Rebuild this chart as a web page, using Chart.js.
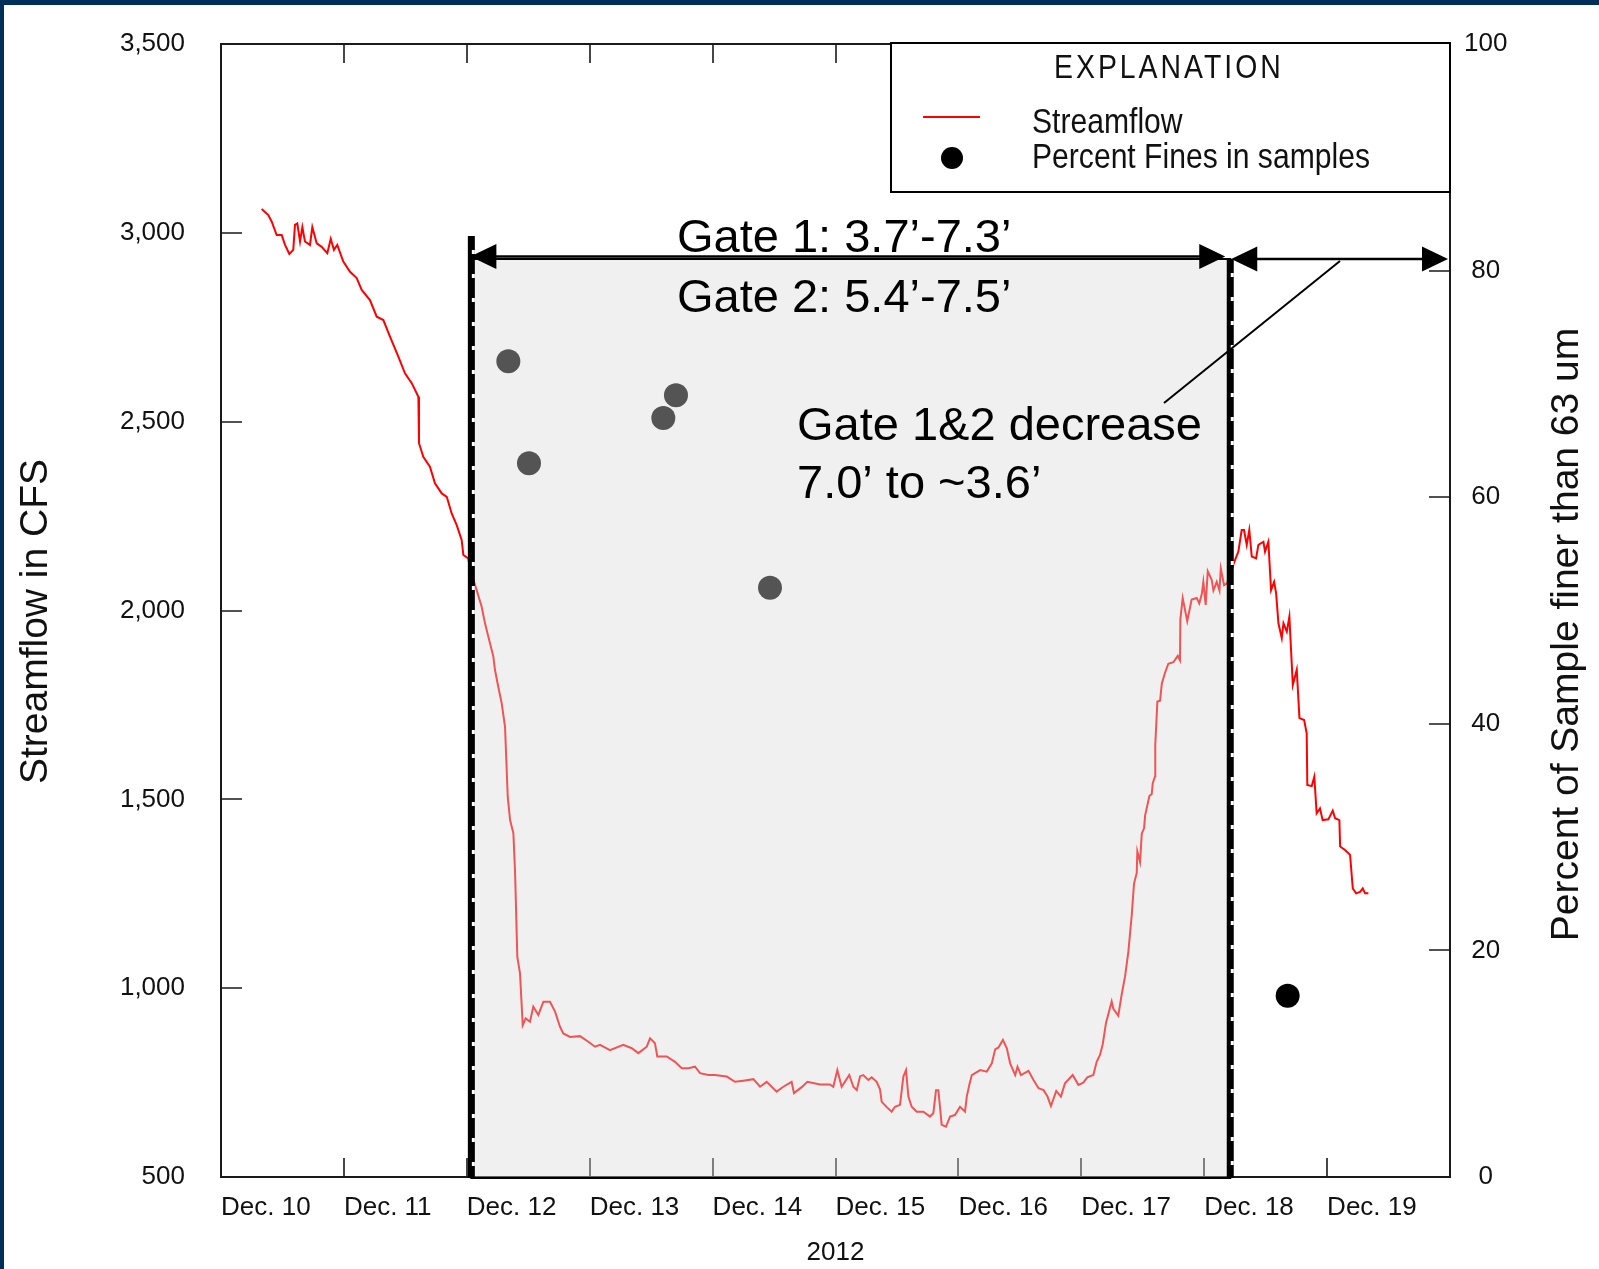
<!DOCTYPE html>
<html>
<head>
<meta charset="utf-8">
<script src="https://cdn.jsdelivr.net/npm/chart.js@4.4.1/dist/chart.umd.min.js"></script>
<style>
  html, body { margin: 0; padding: 0; background: #fff; }
  #frame {
    width: 1599px; height: 1269px; box-sizing: border-box;
    border-top: 5px solid #00305a; border-left: 4px solid #00305a;
  }
  #wrap { position: relative; width: 1595px; height: 1264px; }
</style>
</head>
<body>
<div id="frame"><div id="wrap"><canvas id="flowChart"></canvas></div></div>
<script>
const SANS = "'Liberation Sans', Arial, sans-serif";

// days since Dec. 10, 2012 00:00
const flowDays = [
  0.331, 0.385, 0.412, 0.453, 0.494, 0.521, 0.556, 0.588, 0.602, 0.621,
  0.643, 0.662, 0.683, 0.724, 0.743, 0.779, 0.819, 0.865, 0.893, 0.919,
  0.946, 0.995, 1.050, 1.104, 1.145, 1.212, 1.267, 1.321, 1.375, 1.443,
  1.497, 1.552, 1.606, 1.611, 1.646, 1.700, 1.741, 1.796, 1.837, 1.877,
  1.918, 1.958, 1.972, 2.012, 2.026, 2.080, 2.121, 2.148, 2.175, 2.216,
  2.229, 2.256, 2.284, 2.311, 2.333, 2.352, 2.379, 2.393, 2.411, 2.433,
  2.455, 2.479, 2.514, 2.541, 2.582, 2.623, 2.677, 2.718, 2.758, 2.785,
  2.840, 2.921, 2.989, 3.043, 3.084, 3.165, 3.273, 3.342, 3.396, 3.464,
  3.491, 3.531, 3.550, 3.627, 3.694, 3.749, 3.803, 3.857, 3.898, 3.965,
  4.019, 4.115, 4.182, 4.250, 4.332, 4.386, 4.440, 4.521, 4.575, 4.643,
  4.662, 4.725, 4.771, 4.874, 4.955, 4.982, 5.015, 5.050, 5.112, 5.145,
  5.173, 5.200, 5.226, 5.267, 5.294, 5.335, 5.362, 5.376, 5.417, 5.457,
  5.484, 5.525, 5.552, 5.574, 5.593, 5.620, 5.661, 5.715, 5.769, 5.796,
  5.818, 5.837, 5.850, 5.864, 5.899, 5.932, 5.972, 6.013, 6.054, 6.068,
  6.089, 6.109, 6.177, 6.231, 6.272, 6.299, 6.326, 6.362, 6.394, 6.421,
  6.462, 6.481, 6.509, 6.570, 6.611, 6.652, 6.693, 6.725, 6.753, 6.796,
  6.834, 6.867, 6.930, 6.976, 7.016, 7.049, 7.098, 7.125, 7.152, 7.174,
  7.201, 7.247, 7.260, 7.301, 7.329, 7.356, 7.383, 7.410, 7.429, 7.451,
  7.456, 7.478, 7.492, 7.511, 7.519, 7.554, 7.573, 7.581, 7.600, 7.602,
  7.619, 7.641, 7.655, 7.681, 7.708, 7.749, 7.785, 7.803, 7.806, 7.825,
  7.862, 7.898, 7.939, 7.960, 7.980, 7.993, 8.012, 8.029, 8.061, 8.075,
  8.102, 8.124, 8.135, 8.162, 8.184, 8.244, 8.278, 8.305, 8.324, 8.346,
  8.367, 8.387, 8.422, 8.441, 8.482, 8.495, 8.522, 8.544, 8.569, 8.585,
  8.604, 8.631, 8.645, 8.672, 8.693, 8.721, 8.753, 8.775, 8.813, 8.834,
  8.839, 8.875, 8.896, 8.915, 8.942, 8.964, 9.010, 9.046, 9.065, 9.100,
  9.106, 9.146, 9.187, 9.209, 9.236, 9.268, 9.290, 9.309, 9.336
];
const flowCfs = [
  3063, 3047, 3030, 2994, 2994, 2968, 2944, 2955, 3021, 3025,
  2977, 3015, 2977, 2968, 3015, 2972, 2963, 2946, 2984, 2955,
  2968, 2924, 2897, 2880, 2849, 2822, 2778, 2769, 2725, 2672,
  2628, 2602, 2566, 2443, 2407, 2381, 2337, 2310, 2301, 2257,
  2226, 2187, 2147, 2138, 2112, 2054, 2010, 1966, 1931, 1878,
  1843, 1798, 1754, 1692, 1507, 1445, 1410, 1304, 1083, 1039,
  902, 920, 911, 951, 929, 964, 964, 938, 898, 880,
  871, 873, 858, 845, 850, 836, 850, 841, 828, 845,
  867, 854, 819, 819, 805, 788, 788, 792, 775, 770,
  770, 766, 752, 755, 759, 739, 752, 726, 739, 752,
  722, 738, 752, 745, 745, 739, 783, 739, 770, 739,
  730, 767, 770, 757, 764, 752, 732, 699, 685, 673,
  686, 691, 766, 783, 713, 686, 673, 673, 660, 669,
  730, 730, 686, 638, 633, 660, 664, 686, 673, 713,
  744, 770, 783, 779, 801, 838, 843, 863, 841, 801,
  770, 792, 770, 781, 757, 735, 730, 713, 688, 728,
  713, 748, 770, 744, 750, 764, 770, 805, 823, 851,
  908, 965, 946, 927, 984, 1031, 1097, 1192, 1277, 1305,
  1362, 1334, 1409, 1424, 1457, 1509, 1514, 1542, 1561, 1646,
  1759, 1761, 1806, 1835, 1859, 1863, 1880, 1868, 1977, 2033,
  1972, 2029, 2033, 2019, 2043, 2076, 2015, 2104, 2081, 2053,
  2076, 2053, 2111, 2067, 2071, 2128, 2156, 2213, 2213, 2174,
  2213, 2143, 2138, 2174, 2182, 2156, 2182, 2054, 2076, 2046,
  1966, 1927, 1966, 1944, 1984, 1803, 1843, 1715, 1710, 1675,
  1538, 1535, 1560, 1463, 1476, 1445, 1447, 1470, 1450, 1445,
  1375, 1366, 1353, 1264, 1251, 1255, 1264, 1251, 1251
];

const sampleDays = [2.338, 2.506, 3.599, 3.702, 4.467, 8.679];
const sampleFines = [72, 63, 67, 69, 52, 16];

const dayLabels = ['Dec. 10', 'Dec. 11', 'Dec. 12', 'Dec. 13', 'Dec. 14',
  'Dec. 15', 'Dec. 16', 'Dec. 17', 'Dec. 18', 'Dec. 19'];
const yearLabel = '2012';

// gate change period, days since Dec. 10
const gateStart = 2.037;
const gateEnd = 8.212;
const gateNotes = ['Gate 1: 3.7\u2019-7.3\u2019', 'Gate 2: 5.4\u2019-7.5\u2019'];
const decreaseNotes = ['Gate 1&2 decrease', '7.0\u2019 to ~3.6\u2019'];

const AXIS = '#1a1a1a';

function arrowHead(ctx, tipX, y, dir) {
  ctx.beginPath();
  ctx.moveTo(tipX, y);
  ctx.lineTo(tipX + dir * 26, y - 12.5);
  ctx.lineTo(tipX + dir * 26, y + 12.5);
  ctx.closePath();
  ctx.fill();
}

function doubleArrow(ctx, x1, x2, y) {
  ctx.beginPath();
  ctx.moveTo(x1 + 10, y);
  ctx.lineTo(x2 - 10, y);
  ctx.stroke();
  arrowHead(ctx, x1, y, 1);
  arrowHead(ctx, x2, y, -1);
}

function gateLine(ctx, x, yTop, yBot) {
  ctx.fillStyle = '#000';
  ctx.fillRect(x - 3.5, yTop, 7, yBot - yTop);
  ctx.save();
  ctx.strokeStyle = '#fff';
  ctx.lineWidth = 3;
  ctx.setLineDash([4, 20]);
  ctx.beginPath();
  ctx.moveTo(x + 2, yTop + 14);
  ctx.lineTo(x + 2, yBot - 8);
  ctx.stroke();
  ctx.restore();
}

// condensed look: squeeze the text horizontally
function narrowText(ctx, text, x, y, squeeze) {
  ctx.save();
  ctx.translate(x, y);
  ctx.scale(squeeze, 1);
  ctx.fillText(text, 0, 0);
  ctx.restore();
}

const gatePlugin = {
  id: 'gatePlugin',
  afterDatasetsDraw(chart) {
    const { ctx, chartArea: ca, scales } = chart;
    ctx.save();

    // inward tick marks
    ctx.strokeStyle = AXIS;
    ctx.lineWidth = 1.6;
    ctx.beginPath();
    scales.x.ticks.forEach(t => {
      if (t.value <= 0 || t.value >= 10) return;
      const x = Math.round(scales.x.getPixelForValue(t.value));
      ctx.moveTo(x, ca.bottom); ctx.lineTo(x, ca.bottom - 19);
      ctx.moveTo(x, ca.top); ctx.lineTo(x, ca.top + 19);
    });
    scales.y.ticks.forEach(t => {
      if (t.value <= 500 || t.value >= 3500) return;
      const y = Math.round(scales.y.getPixelForValue(t.value));
      ctx.moveTo(ca.left, y); ctx.lineTo(ca.left + 21, y);
    });
    scales.y2.ticks.forEach(t => {
      if (t.value <= 0 || t.value >= 100) return;
      const y = Math.round(scales.y2.getPixelForValue(t.value));
      ctx.moveTo(ca.right, y); ctx.lineTo(ca.right - 21, y);
    });
    ctx.stroke();

    const x1 = scales.x.getPixelForValue(gateStart);
    const x2 = scales.x.getPixelForValue(gateEnd);
    const arrowY = ca.top + 212.5;
    const shadeTop = ca.top + 215;

    // shaded gate period
    ctx.fillStyle = 'rgba(217,217,217,0.39)';
    ctx.fillRect(x1, shadeTop, x2 - x1, ca.bottom - shadeTop);
    ctx.strokeStyle = '#000';
    ctx.lineWidth = 2;
    ctx.strokeRect(x1, shadeTop, x2 - x1, ca.bottom - shadeTop + 1);

    gateLine(ctx, x1, ca.top + 192, ca.bottom + 1);
    gateLine(ctx, x2, shadeTop, ca.bottom + 1);

    ctx.fillStyle = '#000';
    ctx.strokeStyle = '#000';
    ctx.lineWidth = 2.5;
    doubleArrow(ctx, x1 - 1, x2 - 5, arrowY);
    doubleArrow(ctx, x2 + 1, ca.right - 2, ca.top + 215);

    // leader line
    ctx.lineWidth = 2;
    ctx.beginPath();
    ctx.moveTo(ca.left + 1119, ca.top + 217);
    ctx.lineTo(ca.left + 943, ca.top + 359);
    ctx.stroke();

    ctx.font = `47px ${SANS}`;
    ctx.textAlign = 'left';
    ctx.textBaseline = 'alphabetic';
    ctx.fillText(gateNotes[0], ca.left + 456, ca.top + 208);
    ctx.fillText(gateNotes[1], ca.left + 456, ca.top + 268);
    ctx.fillText(decreaseNotes[0], ca.left + 576, ca.top + 396);
    ctx.fillText(decreaseNotes[1], ca.left + 576, ca.top + 454);
    ctx.restore();
  },
  afterDraw(chart) {
    const { ctx, chartArea: ca } = chart;
    ctx.save();

    // axis titles, both read bottom to top
    ctx.fillStyle = '#111';
    ctx.font = `39px ${SANS}`;
    ctx.textAlign = 'center';
    ctx.textBaseline = 'middle';
    ctx.save();
    ctx.translate(ca.left - 185, (ca.top + ca.bottom) / 2 + 11);
    ctx.rotate(-Math.PI / 2);
    ctx.fillText('Streamflow in CFS', 0, 0);
    ctx.restore();
    ctx.save();
    ctx.translate(ca.right + 117, (ca.top + ca.bottom) / 2 + 24);
    ctx.rotate(-Math.PI / 2);
    ctx.fillText('Percent of Sample finer than 63 um', 0, 0);
    ctx.restore();

    // explanation box
    const lx = ca.right - 559, ly = ca.top - 1;
    ctx.fillStyle = '#fff';
    ctx.fillRect(lx, ly, 559, 149);
    ctx.strokeStyle = '#000';
    ctx.lineWidth = 2;
    ctx.strokeRect(lx, ly, 559, 149);

    ctx.fillStyle = '#111';
    ctx.textAlign = 'left';
    ctx.textBaseline = 'alphabetic';
    ctx.font = `33px ${SANS}`;
    ctx.letterSpacing = '3.5px';
    narrowText(ctx, 'EXPLANATION', lx + 163, ly + 35, 0.86);
    ctx.letterSpacing = '0px';

    ctx.strokeStyle = '#ff0000';
    ctx.beginPath();
    ctx.moveTo(lx + 32, ly + 74);
    ctx.lineTo(lx + 89, ly + 74);
    ctx.stroke();
    ctx.fillStyle = '#000';
    ctx.beginPath();
    ctx.arc(lx + 61, ly + 115, 11, 0, Math.PI * 2);
    ctx.fill();

    ctx.fillStyle = '#111';
    ctx.font = `35px ${SANS}`;
    narrowText(ctx, 'Streamflow', lx + 141, ly + 90, 0.86);
    narrowText(ctx, 'Percent Fines in samples', lx + 141, ly + 125, 0.86);
    ctx.restore();
  }
};

const tickFont = { family: SANS, size: 26 };

// keep the outer tick labels from pushing the plot area inward
function fixVertical(width) {
  return s => {
    s.width = width;
    s.paddingTop = 0;
    s.paddingBottom = 0;
  };
}

new Chart(document.getElementById('flowChart'), {
  type: 'scatter',
  data: {
    datasets: [{
      label: 'Streamflow',
      data: flowDays.map((d, i) => ({ x: d, y: flowCfs[i] })),
      showLine: true,
      borderColor: '#ff0000',
      borderWidth: 2,
      pointRadius: 0,
      tension: 0,
      xAxisID: 'x',
      yAxisID: 'y'
    }, {
      label: 'Percent Fines in samples',
      data: sampleDays.map((d, i) => ({ x: d, y: sampleFines[i] })),
      backgroundColor: '#000',
      borderWidth: 0,
      pointRadius: 12,
      xAxisID: 'x',
      yAxisID: 'y2'
    }]
  },
  options: {
    responsive: true,
    maintainAspectRatio: false,
    animation: false,
    layout: { padding: 0 },
    plugins: {
      legend: { display: false },
      tooltip: { enabled: false }
    },
    scales: {
      x: {
        type: 'linear',
        position: 'bottom',
        min: 0,
        max: 10,
        afterFit: s => { s.height = 92; s.paddingLeft = 0; s.paddingRight = 0; },
        ticks: {
          stepSize: 1,
          autoSkip: false,
          maxRotation: 0,
          align: 'start',
          padding: 15,
          color: '#111',
          font: tickFont,
          callback: v => dayLabels[v] || ''
        },
        title: {
          display: true,
          text: yearLabel,
          color: '#111',
          font: { family: SANS, size: 26, lineHeight: 1 },
          padding: { top: 0, bottom: 3.5 }
        },
        grid: { display: false, drawTicks: false },
        border: { display: true, color: AXIS, width: 2 }
      },
      xTop: {
        type: 'linear',
        position: 'top',
        min: 0,
        max: 10,
        afterFit: s => { s.height = 39; s.paddingLeft = 0; s.paddingRight = 0; },
        ticks: { display: false, stepSize: 1 },
        grid: { display: false, drawTicks: false },
        border: { display: true, color: AXIS, width: 2 }
      },
      y: {
        type: 'linear',
        position: 'left',
        min: 500,
        max: 3500,
        afterFit: fixVertical(217),
        ticks: {
          stepSize: 500,
          padding: 36,
          color: '#111',
          font: tickFont,
          callback: v => v.toLocaleString('en-US')
        },
        grid: { display: false, drawTicks: false },
        border: { display: true, color: AXIS, width: 2 }
      },
      y2: {
        type: 'linear',
        position: 'right',
        min: 0,
        max: 100,
        afterFit: fixVertical(149),
        ticks: {
          stepSize: 20,
          padding: 14,
          crossAlign: 'center',
          color: '#111',
          font: tickFont
        },
        grid: { display: false, drawTicks: false },
        border: { display: true, color: AXIS, width: 2 }
      }
    }
  },
  plugins: [gatePlugin]
});
</script>
</body>
</html>
